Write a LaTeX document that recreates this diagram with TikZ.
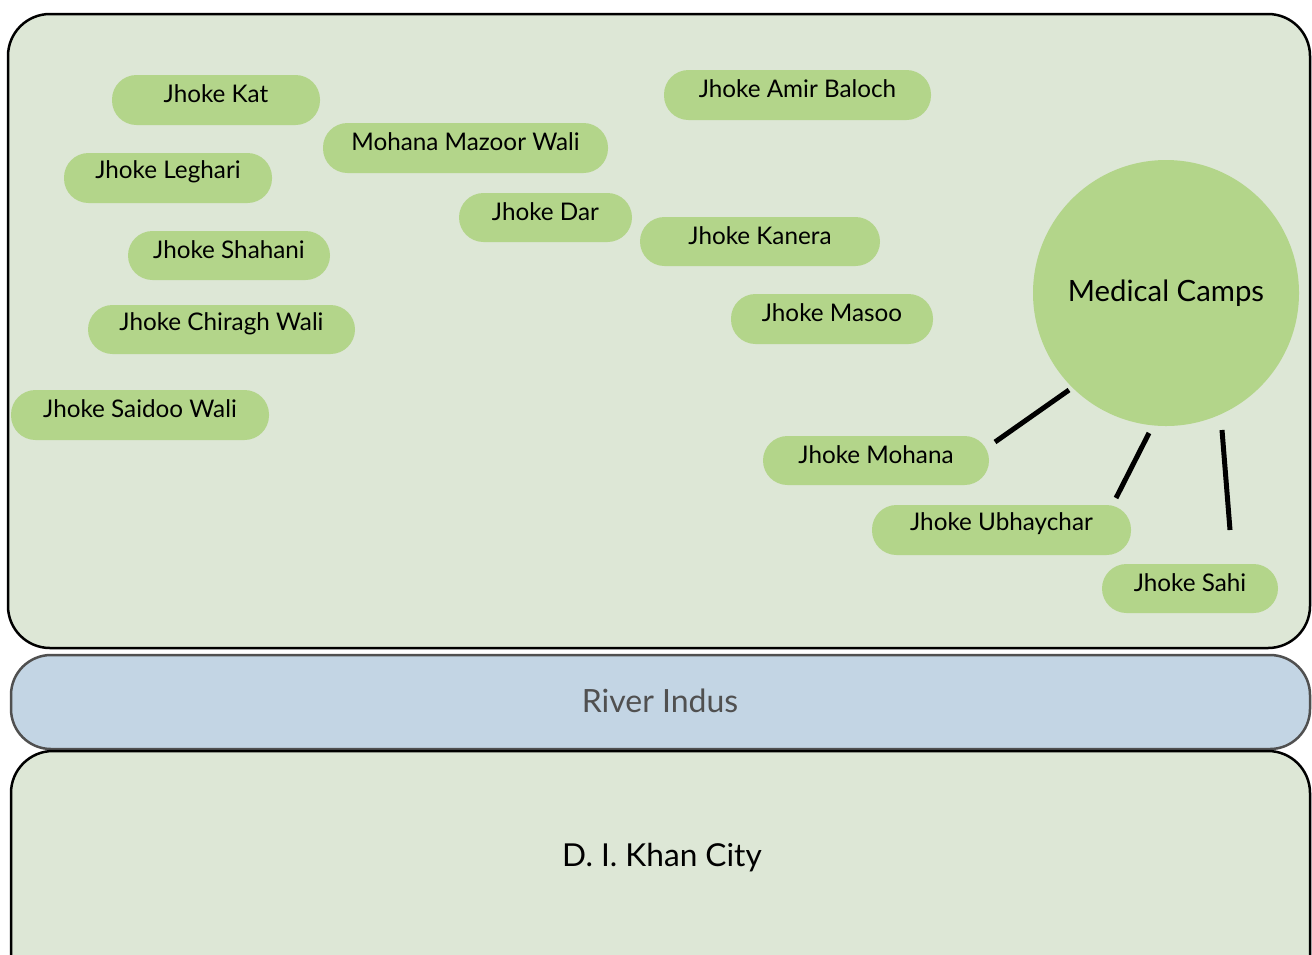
\documentclass[tikz,border=0pt]{standalone}
\usepackage{fontspec}
\setmainfont{Lato}
\definecolor{areafill}{HTML}{DDE7D6}
\definecolor{pillfill}{HTML}{B3D58A}
\definecolor{riverfill}{HTML}{C3D5E4}
\definecolor{rivertext}{HTML}{505050}
\tikzset{
  pill/.style={fill=pillfill, rounded corners=24.5*0.75pt},
  pilltext/.style={inner sep=0pt, anchor=center, font=\fontsize{18.2}{21}\selectfont},
  area/.style={fill=areafill, draw=black, line width=2.5*0.75pt, rounded corners=42*0.75pt},
  link/.style={line width=5*0.75pt, draw=black},
  lbl/.style={inner sep=0pt, anchor=center}
}
\newcommand{\pillat}[6]{%
  \fill[pill] (#1,#2) rectangle (#3,#4);
  \node[pilltext] (#5) at ({(#1+#3)/2},{(#2+#4)/2-6}) {#6};}
\begin{document}
\begin{tikzpicture}[x=0.75pt,y=-0.75pt]
\useasboundingbox (0,0) rectangle (1312,954);
\begin{scope}
\clip (0,0) rectangle (1312,954);
% areas
\draw[area] (8,14) rectangle (1310,648);
\draw[fill=riverfill, draw=rivertext, line width=2.5*0.75pt, rounded corners=40*0.75pt] (11,655) rectangle (1310,749);
\draw[area] (11,751) rectangle (1310,1010);
\end{scope}
\node[lbl, text=rivertext, font=\fontsize{24}{28}\selectfont] (river) at (660,701) {River Indus};
\node[lbl, font=\fontsize{23.7}{28}\selectfont] (city) at (662,858) {D. I. Khan City};
% pills
\pillat{112}{75}{320}{125}{kat}{Jhoke Kat}
\pillat{323}{123}{608}{173}{mazoor}{Mohana Mazoor Wali}
\pillat{64}{153}{272}{203}{leghari}{Jhoke Leghari}
\pillat{664}{70}{931}{120}{amir}{Jhoke Amir Baloch}
\pillat{459}{193}{632}{242}{dar}{Jhoke Dar}
\pillat{640}{217}{880}{266}{kanera}{Jhoke Kanera}
\pillat{128}{231}{330}{280}{shahani}{Jhoke Shahani}
\pillat{88}{305}{355}{354}{chiragh}{Jhoke Chiragh Wali}
\pillat{731}{294}{933}{344}{masoo}{Jhoke Masoo}
\pillat{11}{390}{269}{440}{saidoo}{Jhoke Saidoo Wali}
\pillat{763}{436}{989}{485}{mohana}{Jhoke Mohana}
\pillat{872}{505}{1131}{555}{ubhay}{Jhoke Ubhaychar}
\pillat{1102}{564}{1278}{613}{sahi}{Jhoke Sahi}
% circle
\node[circle, fill=pillfill, minimum size=266*0.75pt, inner sep=0pt, font=\fontsize{22}{26}\selectfont] (camps) at (1166,293) {Medical Camps};
% connectors
\coordinate (c1a) at (1069,390); \coordinate (c1b) at (995,442);
\coordinate (c2a) at (1149,433); \coordinate (c2b) at (1116,498);
\coordinate (c3a) at (1222,430); \coordinate (c3b) at (1230,530);
\draw[link] (c1a) -- (c1b);
\draw[link] (c2a) -- (c2b);
\draw[link] (c3a) -- (c3b);
\end{tikzpicture}
\end{document}
